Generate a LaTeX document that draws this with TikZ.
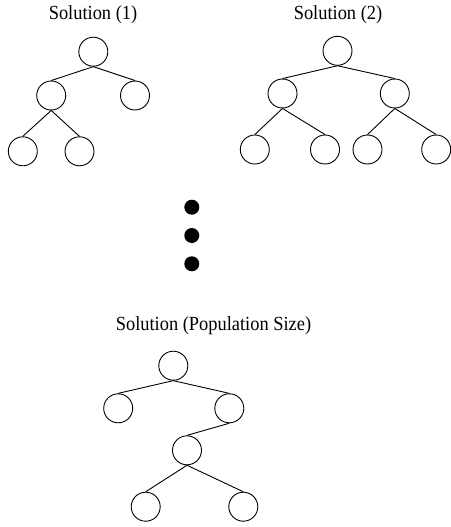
\documentclass[tikz,border=0pt]{standalone}
\usepackage{fontspec}
\setmainfont{Liberation Serif}
\begin{document}
\begin{tikzpicture}[x=1pt,y=-1pt,
  tn/.style={circle,draw=black,line width=0.9pt,minimum size=29pt,inner sep=0pt},
  ed/.style={draw=black,line width=0.9pt},
  dotn/.style={circle,fill=black,minimum size=15pt,inner sep=0pt},
  ttl/.style={anchor=base,inner sep=0pt,font=\fontsize{20}{24}\selectfont}]
\useasboundingbox (0,0) rectangle (450,527);
% Solution (1)
\node[ttl] (t1) at (93,20) {\scalebox{0.92}[1]{Solution (1)}};
\node[tn] (a0) at (93.3,51.7) {};
\node[tn] (a1) at (51.2,95.5) {};
\node[tn] (a2) at (135,95.5) {};
\node[tn] (a3) at (22.8,151.3) {};
\node[tn] (a4) at (79.5,151.3) {};
\draw[ed] (a0.south) -- (a1.north);
\draw[ed] (a0.south) -- (a2.north);
\draw[ed] (a1.south) -- (a3.north);
\draw[ed] (a1.south) -- (a4.north);
% Solution (2)
\node[ttl] (t2) at (338,20) {\scalebox{0.92}[1]{Solution (2)}};
\node[tn] (b0) at (337.5,50.8) {};
\node[tn] (b1) at (282.5,93.5) {};
\node[tn] (b2) at (394.8,93.5) {};
\node[tn] (b3) at (254.8,149.5) {};
\node[tn] (b4) at (325,149.5) {};
\node[tn] (b5) at (367.5,149.5) {};
\node[tn] (b6) at (436.2,149.5) {};
\draw[ed] (b0.south) -- (b1.north);
\draw[ed] (b0.south) -- (b2.north);
\draw[ed] (b1.south) -- (b3.north);
\draw[ed] (b1.south) -- (b4.north);
\draw[ed] (b2.south) -- (b5.north);
\draw[ed] (b2.south) -- (b6.north);
% dots
\node[dotn] (d1) at (191.8,207.2) {};
\node[dotn] (d2) at (191.8,235.5) {};
\node[dotn] (d3) at (191.8,263.8) {};
% Solution (Population Size)
\node[ttl] (t3) at (213.5,330) {\scalebox{0.92}[1]{Solution (Population Size)}};
\node[tn] (c0) at (173.3,365.7) {};
\node[tn] (c1) at (118.2,408.3) {};
\node[tn] (c2) at (229.3,408.3) {};
\node[tn] (c3) at (187,450.3) {};
\node[tn] (c4) at (145.7,506.7) {};
\node[tn] (c5) at (243.3,506.7) {};
\draw[ed] (c0.south) -- (c1.north);
\draw[ed] (c0.south) -- (c2.north);
\draw[ed] (c2.south) -- (c3.north);
\draw[ed] (c3.south) -- (c4.north);
\draw[ed] (c3.south) -- (c5.north);
\end{tikzpicture}
\end{document}
